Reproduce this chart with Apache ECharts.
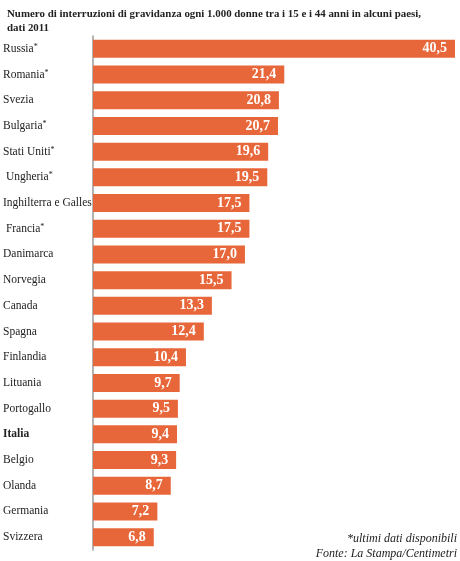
<!DOCTYPE html>
<html><head><meta charset="utf-8">
<script src="https://cdn.jsdelivr.net/npm/echarts@6/dist/echarts.min.js"></script>
<style>html,body{margin:0;padding:0;background:#fff}#c{width:460px;height:561px}</style>
</head><body><div id="c"></div>
<script>
const categories = ['Russia*','Romania*','Svezia','Bulgaria*','Stati Uniti*',' Ungheria*','Inghilterra e Galles',' Francia*','Danimarca','Norvegia','Canada','Spagna','Finlandia','Lituania','Portogallo','Italia','Belgio','Olanda','Germania','Svizzera'];
const values = [40.5,21.4,20.8,20.7,19.6,19.5,17.5,17.5,17.0,15.5,13.3,12.4,10.4,9.7,9.5,9.4,9.3,8.7,7.2,6.8];
const titleLines = ['Numero di interruzioni di gravidanza ogni 1.000 donne tra i 15 e i 44 anni in alcuni paesi,','dati 2011'];
const footLines = ['*ultimi dati disponibili','Fonte: La Stampa/Centimetri'];
const FONT = '"Liberation Serif", "DejaVu Serif", serif';
const chart = echarts.init(document.getElementById('c'));
chart.setOption({
  animation:false,
  title:{text:titleLines.join('\n'),left:2,top:2,textStyle:{fontFamily:FONT,fontWeight:'bold',fontSize:10.9,lineHeight:14,color:'#222'}},
  graphic:[
    {type:'text',right:3,top:533,style:{text:footLines[0],font:'italic 12px '+FONT,fill:'#222',textAlign:'right'}},
    {type:'text',right:3,top:548,style:{text:footLines[1],font:'italic 12px '+FONT,fill:'#222',textAlign:'right'}}
  ],
  grid:{left:92,right:5,top:36,height:514,containLabel:false},
  xAxis:{type:'value',min:0,max:40.5,show:false},
  yAxis:{type:'category',data:categories,inverse:true,
    axisLine:{show:true,lineStyle:{color:'#9a9a9a',width:1.5}},
    axisTick:{show:false},
    axisLabel:{margin:90,align:'left',fontFamily:FONT,fontSize:11.5,color:'#222',
      formatter:function(v){
        if(v==='Italia') return '{b|'+v+'}';
        if(v.endsWith('*')) return v.slice(0,-1)+'{s|*}';
        return v;
      },
      rich:{b:{fontFamily:FONT,fontWeight:'bold',fontSize:11.5,color:'#222'},
            s:{fontFamily:FONT,fontSize:8,color:'#222',verticalAlign:'top',padding:[0,0,4,0]}}}
  },
  series:[{type:'bar',data:values,barWidth:18,itemStyle:{color:'#E8673A'},
    label:{show:true,position:'insideRight',distance:8,color:'#fff',fontFamily:FONT,fontWeight:'bold',fontSize:14,
      formatter:function(p){return p.value.toFixed(1).replace('.',',');}}}]
});
</script></body></html>
